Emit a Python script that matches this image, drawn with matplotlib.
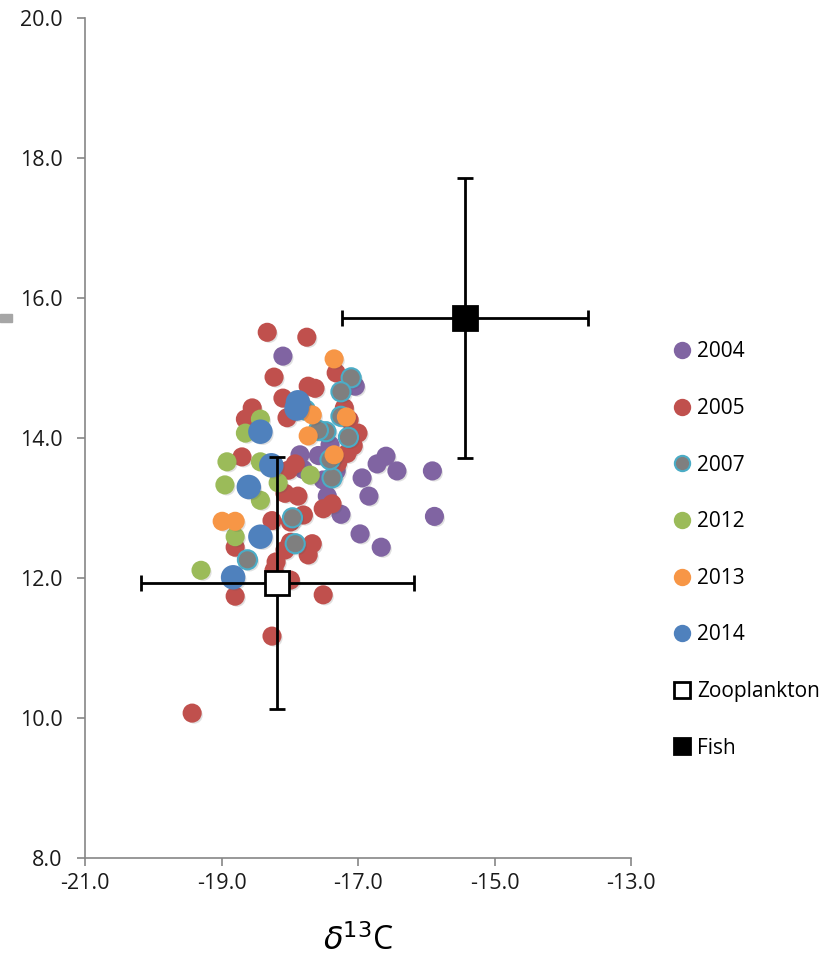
import matplotlib
matplotlib.use("Agg")
import matplotlib.pyplot as plt
from matplotlib.lines import Line2D
from matplotlib.patches import Rectangle
import matplotlib.patheffects as pe

plt.rcParams['font.family'] = ['Open Sans', 'DejaVu Sans']

# ---- data (delta13C, delta15N) ----
x_2004 = [-18.10, -16.94, -16.72, -16.59, -16.43, -15.91, -15.88, -16.84, -17.25, -16.97,
          -16.66, -17.85, -17.58, -17.45, -17.04, -17.41, -17.32, -17.51, -17.10, -17.80]
y_2004 = [15.17, 13.43, 13.63, 13.74, 13.53, 13.53, 12.88, 13.17, 12.91, 12.63,
          12.44, 13.76, 13.75, 13.17, 14.74, 13.90, 13.53, 13.40, 14.80, 13.55]

x_2005 = [-18.33, -17.75, -18.23, -18.10, -18.55, -18.65, -17.73, -17.63, -17.32, -17.00,
          -17.20, -18.70, -17.92, -17.88, -17.51, -17.38, -18.26, -18.80, -18.07, -17.67,
          -17.73, -17.80, -18.23, -17.99, -18.80, -17.51, -18.26, -19.43, -18.02, -18.07,
          -17.99, -17.16, -17.30, -18.04, -17.07, -17.13, -18.20, -17.99]
y_2005 = [15.51, 15.44, 14.87, 14.57, 14.43, 14.27, 14.74, 14.71, 14.93, 14.07,
          14.43, 13.73, 13.63, 13.17, 12.99, 13.06, 12.82, 12.44, 12.40, 12.49,
          12.33, 12.90, 12.11, 11.97, 11.74, 11.76, 11.17, 10.07, 13.54, 13.21,
          12.80, 13.78, 13.64, 14.29, 13.89, 14.26, 12.23, 12.51]

x_2007 = [-17.10, -17.25, -17.25, -17.47, -17.14, -17.38, -17.96, -17.92, -18.62, -17.77,
          -17.58, -17.41]
y_2007 = [14.86, 14.66, 14.31, 14.09, 14.01, 13.43, 12.86, 12.49, 12.26, 14.40,
          14.11, 13.69]

x_2012 = [-19.30, -18.92, -18.95, -18.65, -18.43, -18.43, -18.17, -18.43, -18.80, -17.70]
y_2012 = [12.11, 13.66, 13.33, 14.07, 14.27, 13.66, 13.36, 13.11, 12.59, 13.47]

x_2013 = [-17.35, -17.17, -17.67, -17.73, -17.35, -18.99, -18.80]
y_2013 = [15.13, 14.30, 14.33, 14.03, 13.76, 12.81, 12.81]

x_2014 = [-17.88, -17.90, -18.43, -18.27, -18.60, -18.43, -18.83]
y_2014 = [14.51, 14.42, 14.09, 13.61, 13.30, 12.59, 12.01]

zoo_x, zoo_y, zoo_xerr, zoo_yerr = -18.18, 11.93, 2.0, 1.8
fish_x, fish_y, fish_xerr, fish_yerr = -15.43, 15.72, 1.8, 2.0

years = ['2004', '2005', '2007', '2012', '2013', '2014']
xticks = [-21.0, -19.0, -17.0, -15.0, -13.0]
yticks = [8.0, 10.0, 12.0, 14.0, 16.0, 18.0, 20.0]

# ---- figure ----
W, H = 836, 977
fig = plt.figure(figsize=(W / 100, H / 100), dpi=100)
ax = fig.add_axes([85 / W, 1 - 858 / H, (631 - 85) / W, (858 - 18) / H])

shadow = [pe.SimplePatchShadow(offset=(1.5, -1.5), alpha=0.18, shadow_rgbFace='#555555'), pe.Normal()]

series = [
    (x_2004, y_2004, '#8064A2', '#8064A2', 150),
    (x_2005, y_2005, '#C0504D', '#C0504D', 150),
    (x_2007, y_2007, '#7F7F7F', '#4BACC6', 190),
    (x_2012, y_2012, '#9BBB59', '#9BBB59', 150),
    (x_2013, y_2013, '#F79646', '#F79646', 150),
    (x_2014, y_2014, '#4F81BD', '#4F81BD', 260),
]
for xs, ys, fc, ec, s in series:
    sc = ax.scatter(xs, ys, s=s, c=fc, edgecolors=ec, linewidths=1.5, zorder=3)
    sc.set_path_effects(shadow)

ax.errorbar([zoo_x], [zoo_y], xerr=[zoo_xerr], yerr=[zoo_yerr], fmt='s', ms=17,
            mfc='white', mec='black', mew=2, ecolor='black', elinewidth=2,
            capsize=6, capthick=2, zorder=5)
ax.errorbar([fish_x], [fish_y], xerr=[fish_xerr], yerr=[fish_yerr], fmt='s', ms=17,
            mfc='black', mec='black', mew=2, ecolor='black', elinewidth=2,
            capsize=6, capthick=2, zorder=5)

ax.set_xlim(-21, -13)
ax.set_ylim(8, 20)
ax.set_xticks(xticks)
ax.set_yticks(yticks)
ax.set_xticklabels([f'{v:.1f}' for v in xticks])
ax.set_yticklabels([f'{v:.1f}' for v in yticks])
for sp in ['top', 'right']:
    ax.spines[sp].set_visible(False)
for sp in ['left', 'bottom']:
    ax.spines[sp].set_color('#868686')
    ax.spines[sp].set_linewidth(1.2)
ax.tick_params(axis='both', direction='out', length=6, width=1.2, color='#868686',
               labelsize=15.5, labelcolor='#1a1a1a')
ax.tick_params(axis='x', pad=5)
ax.tick_params(axis='y', pad=10)

ax.set_xlabel(r'$\delta$' + '$^{13}$C', fontsize=23, labelpad=22)

# legend
handles = []
for (xs, ys, fc, ec, s), yr in zip(series, years):
    handles.append(Line2D([], [], marker='o', ls='none', ms=11, mfc=fc, mec=ec, mew=1.5, label=yr))
handles.append(Line2D([], [], marker='s', ls='none', ms=12, mfc='white', mec='black', mew=2, label='Zooplankton'))
handles.append(Line2D([], [], marker='s', ls='none', ms=12, mfc='black', mec='black', mew=2, label='Fish'))
leg = fig.legend(handles=handles, loc='upper left', bbox_to_anchor=(665 / W, 1 - 333 / H),
                 frameon=False, fontsize=15, labelspacing=1.71, handlelength=0.8,
                 handletextpad=0.35, borderaxespad=0)

# small grey mark at left edge
fig.patches.append(Rectangle((0, 1 - 322 / H), 12 / W, 8 / H, transform=fig.transFigure,
                             color='#A6A6A6', zorder=0))

fig.savefig('out.png', dpi=100)
